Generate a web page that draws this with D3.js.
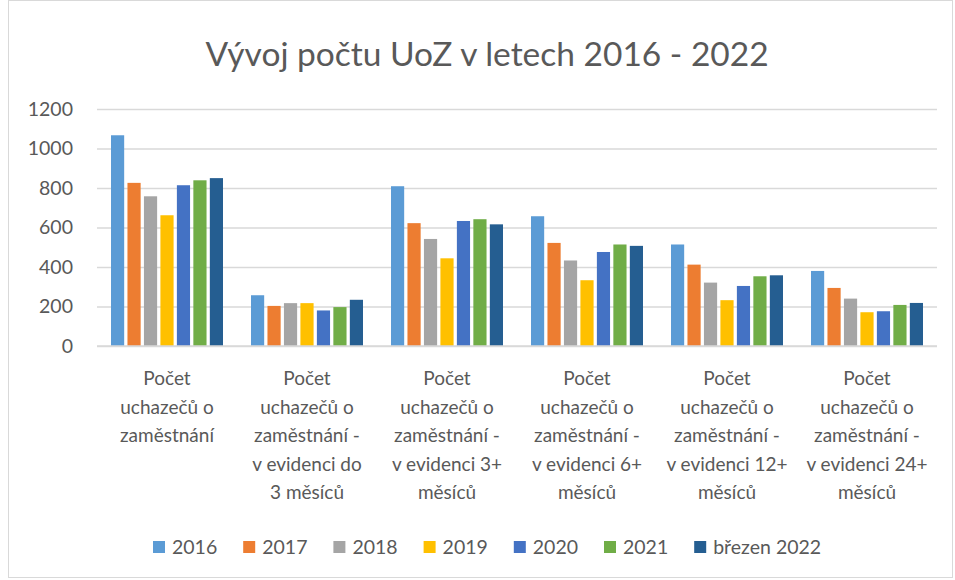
<!DOCTYPE html>
<html>
<head>
<meta charset="utf-8">
<script src="https://cdn.jsdelivr.net/npm/d3@7"></script>
<style>
  body { margin: 0; background: #fff; }
  svg text { font-family: Lato, "Open Sans", sans-serif; fill: #595959; }
</style>
</head>
<body>
<div id="chart"></div>
<script>
// categories (each split into lines the way they wrap in the picture)
var categories = [
    ["Počet", "uchazečů o", "zaměstnání"],
    ["Počet", "uchazečů o", "zaměstnání -", "v evidenci do", "3 měsíců"],
    ["Počet", "uchazečů o", "zaměstnání -", "v evidenci 3+", "měsíců"],
    ["Počet", "uchazečů o", "zaměstnání -", "v evidenci 6+", "měsíců"],
    ["Počet", "uchazečů o", "zaměstnání -", "v evidenci 12+", "měsíců"],
    ["Počet", "uchazečů o", "zaměstnání -", "v evidenci 24+", "měsíců"]
];
var seriesNames = ["2016", "2017", "2018", "2019", "2020", "2021", "březen 2022"];
var seriesColors = ["#5B9BD5", "#ED7D31", "#A5A5A5", "#FFC000", "#4472C4", "#70AD47", "#255E91"];

var v2016 = [1067, 257, 809, 657, 514, 380];
var v2017 = [826, 203, 622, 522, 412, 294];
var v2018 = [758, 217, 542, 433, 321, 240];
var v2019 = [662, 217, 444, 333, 232, 171];
var v2020 = [814, 180, 633, 476, 304, 176];
var v2021 = [839, 197, 642, 514, 353, 208];
var v2022 = [850, 234, 616, 507, 358, 218];
var seriesValues = [v2016, v2017, v2018, v2019, v2020, v2021, v2022];

var yTicks = [0, 200, 400, 600, 800, 1000, 1200];

var width = 955, height = 580;
var svg = d3.select("#chart").append("svg")
    .attr("width", width)
    .attr("height", height);

// chart border
svg.append("rect")
    .attr("x", 8.5).attr("y", 0.5)
    .attr("width", 944).attr("height", 577)
    .attr("fill", "none")
    .attr("stroke", "#d9d9d9");

svg.append("text")
    .attr("x", 487).attr("y", 66)
    .attr("text-anchor", "middle")
    .style("font-size", "33.5px")
    .text("Vývoj počtu UoZ v letech 2016 - 2022");

var x0 = d3.scaleBand()
    .domain(d3.range(categories.length))
    .range([97, 937]);

var x1 = d3.scaleBand()
    .domain(d3.range(seriesNames.length))
    .range([0, x0.bandwidth()])
    .paddingInner(0.2)
    .paddingOuter(0.85);

var y = d3.scaleLinear()
    .domain([0, 1200])
    .range([346, 109]);

// gridlines + y labels
var yAxis = d3.axisLeft(y)
    .tickValues(yTicks)
    .tickFormat(d3.format("d"))
    .tickSize(-(937 - 97))
    .tickPadding(24);

var gy = svg.append("g")
    .attr("transform", "translate(97,0)")
    .call(yAxis);
gy.select(".domain").remove();
gy.selectAll(".tick line").attr("stroke", "#d9d9d9").attr("stroke-width", 1.3);
gy.selectAll(".tick text")
    .style("font-size", "19.5px")
    .style("font-family", "Lato, sans-serif")
    .attr("fill", "#595959");

// bars
var groups = svg.selectAll("g.grp")
    .data(categories)
    .enter()
  .append("g")
    .attr("class", "grp")
    .attr("transform", function(d, i){ return "translate(" + x0(i) + ",0)"; });

groups.selectAll("rect")
    .data(function(d, i){
        return seriesValues.map(function(s, j){ return {s: j, v: s[i]}; });
    })
    .enter()
  .append("rect")
    .attr("x", function(d){ return x1(d.s); })
    .attr("width", x1.bandwidth())
    .attr("y", function(d){ return y(d.v); })
    .attr("height", function(d){ return y(0) - y(d.v); })
    .attr("fill", function(d){ return seriesColors[d.s]; });

// x axis line
svg.append("line")
    .attr("x1", 97).attr("x2", 937)
    .attr("y1", y(0)).attr("y2", y(0))
    .attr("stroke", "#d9d9d9")
    .attr("stroke-width", 1.3);

// category labels
groups.append("text")
    .attr("text-anchor", "middle")
    .style("font-size", "19px")
    .selectAll("tspan")
    .data(function(d){ return d; })
    .enter()
  .append("tspan")
    .attr("x", x0.bandwidth() / 2)
    .attr("y", function(d, i){ return 385 + i * 28.5; })
    .text(function(d){ return d; });

// legend
var legend = svg.selectAll("g.leg")
    .data(seriesNames)
    .enter()
  .append("g")
    .attr("class", "leg")
    .attr("transform", function(d, i){ return "translate(" + (153 + i * 90.2) + ",547)"; });

legend.append("rect")
    .attr("x", 0).attr("y", -6)
    .attr("width", 12).attr("height", 12)
    .attr("fill", function(d, i){ return seriesColors[i]; });

legend.append("text")
    .attr("x", 19).attr("y", 7)
    .style("font-size", "19.5px")
    .text(function(d){ return d; });
</script>
</body>
</html>
